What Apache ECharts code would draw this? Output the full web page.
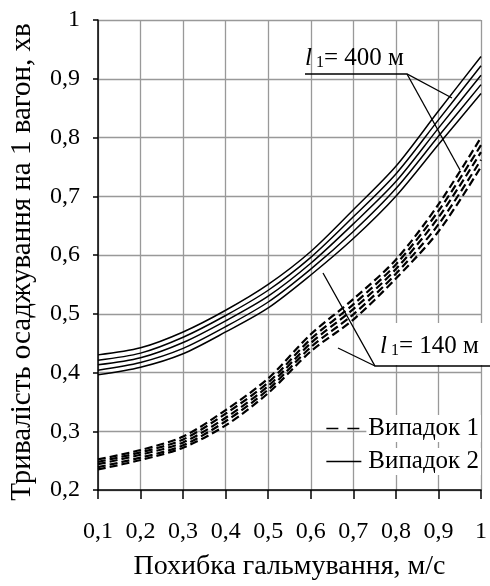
<!DOCTYPE html>
<html><head><meta charset="utf-8">
<script src="https://cdn.jsdelivr.net/npm/echarts@6/dist/echarts.min.js"></script>
<style>html,body{margin:0;padding:0;background:#fff}#c{width:490px;height:586px}</style>
</head><body><div id="c"></div>
<script>
const xValues = [0.1, 0.2, 0.3, 0.4, 0.5, 0.6, 0.7, 0.8, 0.9, 1.0];
// Випадок 2 (solid), five curves top to bottom
const case2_a = [0.430, 0.442, 0.469, 0.506, 0.550, 0.606, 0.677, 0.751, 0.845, 0.938];
const case2_b = [0.421, 0.433, 0.460, 0.497, 0.540, 0.596, 0.665, 0.738, 0.830, 0.922];
const case2_c = [0.413, 0.425, 0.451, 0.488, 0.530, 0.586, 0.653, 0.725, 0.816, 0.906];
const case2_d = [0.404, 0.417, 0.441, 0.478, 0.520, 0.576, 0.640, 0.713, 0.802, 0.890];
const case2_e = [0.396, 0.409, 0.432, 0.469, 0.510, 0.566, 0.628, 0.700, 0.788, 0.875];
// Випадок 1 (dashed), five curves top to bottom
const case1_a = [0.252, 0.268, 0.291, 0.336, 0.390, 0.465, 0.525, 0.592, 0.686, 0.800];
const case1_b = [0.248, 0.264, 0.286, 0.330, 0.383, 0.457, 0.516, 0.584, 0.675, 0.787];
const case1_c = [0.244, 0.260, 0.281, 0.323, 0.377, 0.450, 0.508, 0.576, 0.664, 0.775];
const case1_d = [0.239, 0.255, 0.276, 0.317, 0.371, 0.443, 0.499, 0.568, 0.652, 0.762];
const case1_e = [0.235, 0.251, 0.272, 0.310, 0.365, 0.436, 0.490, 0.560, 0.640, 0.750];
const case1Name = 'Випадок 1';
const case2Name = 'Випадок 2';
const xTitle = 'Похибка гальмування, м/с';
const yTitle = 'Тривалість осаджування на 1 вагон, хв';
const label400 = '= 400 м';
const label140 = '= 140 м';

const FONT = 'Liberation Serif';
const fmt = v => (Math.round(v * 10) / 10).toString().replace('.', ',');
const pts = arr => arr.map((y, i) => [xValues[i], y]);

const solid = [case2_a, case2_b, case2_c, case2_d, case2_e].map(a => ({
  name: case2Name, type: 'line', data: pts(a), smooth: 0.3, symbol: 'none',
  lineStyle: { color: '#000', width: 1.5, type: 'solid' }, itemStyle: { color: '#000' }, silent: true
}));
const dashed = [case1_a, case1_b, case1_c, case1_d, case1_e].map(a => ({
  name: case1Name, type: 'line', data: pts(a), smooth: 0.3, symbol: 'none',
  lineStyle: { color: '#000', width: 2.2, type: [8, 4] }, itemStyle: { color: '#000' }, silent: true
}));

const richL = {
  i: { fontFamily: FONT, fontStyle: 'italic', fontSize: 25, lineHeight: 26, verticalAlign: 'bottom' },
  s: { fontFamily: FONT, fontSize: 16, lineHeight: 16, verticalAlign: 'bottom' },
  n: { fontFamily: FONT, fontSize: 25, lineHeight: 26, verticalAlign: 'bottom' }
};

const chart = echarts.init(document.getElementById('c'), null, { renderer: 'canvas' });
chart.setOption({
  animation: false,
  backgroundColor: '#fff',
  textStyle: { fontFamily: FONT },
  grid: { left: 96, right: 7, top: 20, bottom: 87, containLabel: false },
  xAxis: {
    type: 'value', min: 0.1, max: 1, interval: 0.1,
    name: xTitle, nameLocation: 'middle', nameGap: 63,
    nameTextStyle: { fontFamily: FONT, fontSize: 28, color: '#000' },
    axisLine: { lineStyle: { color: '#000', width: 1.5 } },
    axisTick: { show: true, length: 9, lineStyle: { color: '#000', width: 1.5 } },
    axisLabel: { formatter: fmt, fontFamily: FONT, fontSize: 24, color: '#000', margin: 30 },
    splitLine: { show: true, lineStyle: { color: '#999', width: 1.3 } }
  },
  yAxis: {
    type: 'value', min: 0.2, max: 1, interval: 0.1,
    name: yTitle, nameLocation: 'middle', nameGap: 61, nameRotate: 90,
    nameTextStyle: { fontFamily: FONT, fontSize: 29, color: '#000', padding: [0, 14, 0, 0] },
    axisLine: { show: true, lineStyle: { color: '#000', width: 1.5 } },
    axisTick: { show: true, length: 5, lineStyle: { color: '#000', width: 1.5 } },
    axisLabel: { formatter: fmt, fontFamily: FONT, fontSize: 24, color: '#000', margin: 18 },
    splitLine: { show: true, lineStyle: { color: '#999', width: 1.3 } }
  },
  legend: {
    data: [
      { name: case1Name, lineStyle: { type: [12, 9], width: 1.6 } },
      { name: case2Name, lineStyle: { width: 1.6 } }
    ],
    orient: 'vertical', right: 4, top: 410,
    itemWidth: 35, itemHeight: 14, itemGap: 6, z: 6,
    itemStyle: { color: 'rgba(0,0,0,0)', borderWidth: 0 },
    textStyle: { fontFamily: FONT, fontSize: 25, color: '#000', backgroundColor: '#fff', padding: [1, 2] }
  },
  graphic: [
    { type: 'text', left: 305, top: 46, z: 10,
      style: { text: '{i|l}{s| 1}{n|' + label400 + '}', fill: '#000', rich: richL } },
    { type: 'polyline', z: 10, shape: { points: [[305, 74], [407, 74], [452, 98]] }, style: { stroke: '#000', lineWidth: 1.3, fill: null } },
    { type: 'line', z: 10, shape: { x1: 407, y1: 74, x2: 460, y2: 170 }, style: { stroke: '#000', lineWidth: 1.3 } },
    { type: 'rect', z: 9, shape: { x: 376, y: 323, width: 110, height: 42 }, style: { fill: '#fff' } },
    { type: 'text', left: 380, top: 334, z: 10,
      style: { text: '{i|l}{s| 1}{n|' + label140 + '}', fill: '#000', rich: richL } },
    { type: 'polyline', z: 10, shape: { points: [[323, 273], [375, 366], [490, 366]] }, style: { stroke: '#000', lineWidth: 1.3, fill: null } },
    { type: 'line', z: 10, shape: { x1: 375, y1: 366, x2: 338, y2: 348 }, style: { stroke: '#000', lineWidth: 1.3 } }
  ],
  series: [...dashed, ...solid]
});
</script></body></html>
